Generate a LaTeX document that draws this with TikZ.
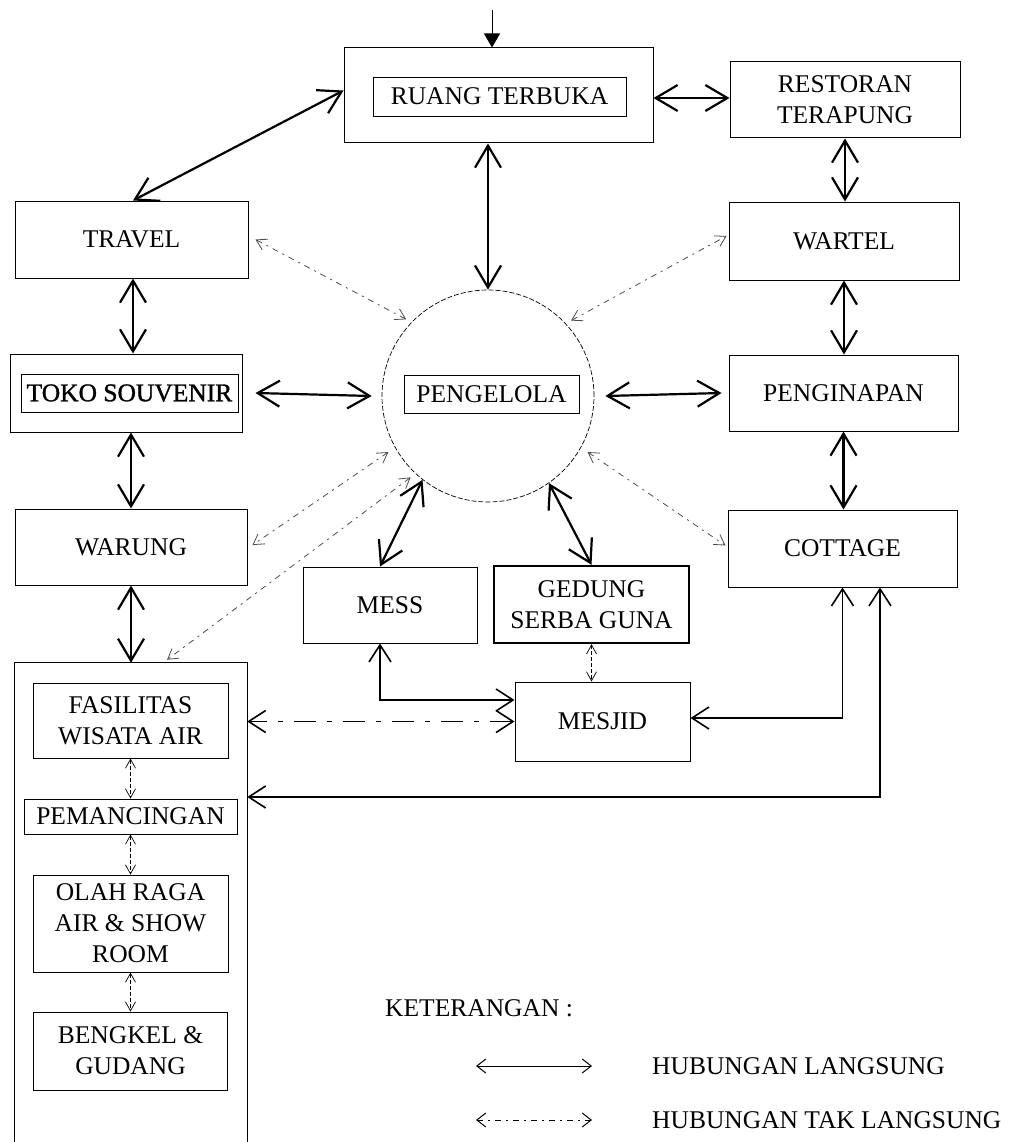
\documentclass[tikz,border=0pt]{standalone}
\usepackage{fontspec}
\setmainfont{Liberation Serif}
\newfontfamily\heavy[FakeBold=1.2]{Liberation Serif}
\usetikzlibrary{positioning,arrows.meta}

\newcommand{\lbl}{\fontsize{25.5}{31}\selectfont}

\begin{document}
\begin{tikzpicture}[x=1pt,y=1pt,node distance=40pt,
 box/.style={draw,line width=1pt,align=center,font=\lbl,inner sep=0pt,
 minimum width=230pt,minimum height=76pt},
 tag/.style={draw,line width=0.9pt,font=\lbl,inner sep=0pt,minimum height=38pt},
 link/.style={{Straight Barb[length=22pt,width=26pt]}-{Straight Barb[length=22pt,width=26pt]},line width=2.2pt},
 route/.style={{Straight Barb[length=17pt,width=22pt]}-{Straight Barb[length=17pt,width=22pt]},line width=1.6pt},
 indirect/.style={{Straight Barb[length=10pt,width=12pt]}-{Straight Barb[length=10pt,width=12pt]},line width=0.8pt,draw=black!70,
 dash pattern=on 6pt off 5pt on 2pt off 5pt},
 minor/.style={{Straight Barb[length=9pt,width=10pt]}-{Straight Barb[length=9pt,width=10pt]},line width=0.7pt,
 dash pattern=on 4pt off 2pt},
 sample/.style={{Straight Barb[length=9pt,width=14pt]}-{Straight Barb[length=9pt,width=14pt]},line width=1pt}]
\useasboundingbox (0,0) rectangle (1011,-1142);

% upper block
\node[box,minimum width=309pt,minimum height=95pt] (ruang) at (498.5,-95.5) {};
\node[tag,minimum width=253pt,minimum height=39pt] (ruanglbl) at (499.5,-96.5) {RUANG TERBUKA};
\node[box] (resto) at (845,-100) {RESTORAN\\TERAPUNG};
\coordinate (entry) at (492,-10);

% left column
\node[box,minimum width=233pt,minimum height=77pt] (travel) at (131.5,-239.5) {TRAVEL};
\node[box,minimum width=232pt,minimum height=78pt] (toko) at (126,-393) {};
\node[tag,minimum width=217pt,font=\lbl\heavy] (tokolbl) at (129.5,-393) {TOKO SOUVENIR};
\node[box,minimum width=232pt] (warung) at (131,-547) {WARUNG};

% right column
\node[box,minimum height=78pt] (wartel) at (844,-241) {WARTEL};
\node[box,minimum width=229pt] (penginapan) at (843.5,-393) {PENGINAPAN};
\node[box,minimum width=229pt,minimum height=77pt] (cottage) at (842.5,-548.5) {COTTAGE};

% centre
\node[circle,draw,minimum size=212pt,inner sep=0pt,line width=0.7pt,
 dash pattern=on 5pt off 2pt] (peng) at (488,-396) {};
\node[tag,minimum width=175pt] (penglbl) at (491.5,-394) {PENGELOLA};
\node[box,minimum width=174pt] (mess) at (390,-605) {MESS};
\node[box,minimum width=195pt,minimum height=77pt,line width=2.4pt] (gedung) at (591.5,-604.5) {GEDUNG\\SERBA GUNA};
\node[box,minimum width=175pt,minimum height=79pt] (mesjid) at (602.5,-721.5) {MESJID};

% water facilities group (open at the bottom)
\node[minimum width=232pt,minimum height=479pt,inner sep=0pt] (wisata) at (131,-902.5) {};
\draw[line width=1pt] (wisata.south west) -- (wisata.north west) -- (wisata.north east) -- (wisata.south east);
\node[box,minimum width=195pt,minimum height=75pt] (fasilitas) at (130.5,-720.5) {FASILITAS\\WISATA AIR};
\node[box,minimum width=213pt,minimum height=35pt,below=of fasilitas] (pancing) {PEMANCINGAN};
\node[box,minimum width=195pt,minimum height=97pt,below=of pancing] (olahraga) {OLAH RAGA\\AIR \& SHOW\\ROOM};
\node[box,minimum width=194pt,minimum height=78pt,below=39pt of olahraga] (bengkel) {BENGKEL \&\\GUDANG};

% legend
\node[anchor=west,font=\lbl,inner sep=0pt] (ket) at (385,-1008) {KETERANGAN :};
\node[anchor=west,font=\lbl,inner sep=0pt] (keydirect) at (652,-1066) {HUBUNGAN LANGSUNG};
\node[anchor=west,font=\lbl,inner sep=0pt] (keyindirect) at (652,-1120) {HUBUNGAN TAK LANGSUNG};
\coordinate (d1) at ([xshift=-176pt]keydirect.west);
\coordinate (d2) at ([xshift=-60pt]keydirect.west);
\coordinate (i1) at ([xshift=-176pt]keyindirect.west);
\coordinate (i2) at ([xshift=-60pt]keyindirect.west);

% direct links
\draw[-{Triangle[length=14pt,width=16pt]},line width=1pt] (entry) -- (entry |- ruang.north);
\draw[link] ([xshift=1.5pt]travel.north) -- ([yshift=5pt]ruang.west);
\draw[link] ([yshift=-2.5pt]ruang.east) -- ([yshift=2pt]resto.west);
\draw[link] (ruang.south -| peng.north) -- (peng.north);
\draw[link] (resto.south) -- (resto.south |- wartel.north);
\draw[link] (wartel.south) -- (wartel.south |- penginapan.north);
\draw[link] (penginapan.south) -- (penginapan.south |- cottage.north);
\draw[link] ([xshift=1.5pt]travel.south) -- ([xshift=1.5pt]travel.south |- toko.north);
\draw[link] (warung.north |- toko.south) -- (warung.north);
\draw[link] (warung.south) -- (warung.south |- wisata.north);
\draw[link] ([xshift=13pt]toko.east) -- ([xshift=-10pt]peng.west);
\draw[link] ([xshift=11pt]peng.east) -- ([xshift=-7pt]penginapan.west);
\draw[link] (peng.232) -- ([xshift=-10pt]mess.north);
\draw[link] (peng.305) -- (gedung.north);

% indirect links
\draw[indirect,shorten <=6pt] (peng.136) -- ([xshift=7pt]travel.east);
\draw[indirect,shorten <=6pt] (peng.43) -- ([shift={(-2pt,5pt)}]wartel.west);
\draw[indirect,shorten <=8pt] (peng.209) -- ([shift={(5pt,2pt)}]warung.east);
\draw[indirect,shorten <=6pt] (peng.227) -- ([shift={(36pt,3pt)}]wisata.north);
\draw[indirect,shorten <=8pt] (peng.331) -- ([shift={(-2pt,3pt)}]cottage.west);
\draw[minor] (fasilitas.south) -- (pancing.north);
\draw[minor] (pancing.south) -- (olahraga.north);
\draw[minor] (olahraga.south) -- (bengkel.north);
\draw[minor] (gedung.south) -- (gedung.south |- mesjid.north);

% routes round the lower part
\draw[route] ([xshift=-10pt]mess.south) |- ([yshift=21.5pt]mesjid.west);
\draw[route,dash pattern=on 22pt off 11pt on 5pt off 11pt] (mesjid.west) -- (mesjid.west -| wisata.east);
\draw[route] ([yshift=3.5pt]mesjid.east) -| (cottage.south);
\draw[route] ([yshift=105.5pt]wisata.east) -| ([xshift=37.5pt]cottage.south);

% legend samples
\draw[sample] (d1) -- (d2);
\draw[sample,dash pattern=on 6pt off 5pt on 2pt off 5pt] (i1) -- (i2);
\end{tikzpicture}
\end{document}
